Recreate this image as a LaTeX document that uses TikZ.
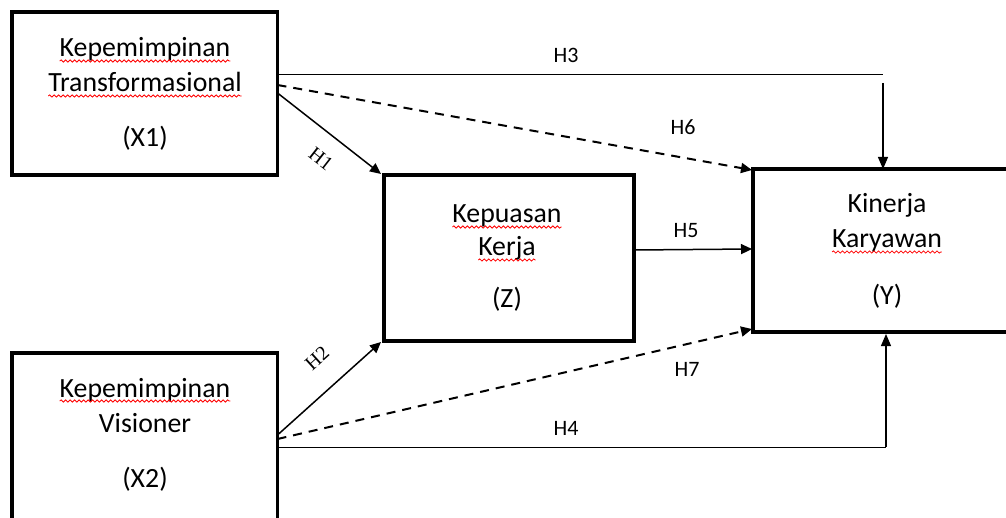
\documentclass[tikz,border=0pt]{standalone}
\usepackage{fontspec}
\setmainfont{Carlito}
\newfontfamily\serifH{Liberation Serif}
\usetikzlibrary{arrows.meta,decorations.pathmorphing}
\begin{document}
\begin{tikzpicture}[x=1pt,y=-1pt,
  box/.style={draw,line width=3.8pt,inner sep=0pt,outer sep=0pt,rectangle},
  word/.style={inner sep=0pt,outer sep=0pt,anchor=base,font=\fontsize{27.8}{32}\selectfont},
  hlab/.style={inner sep=0pt,anchor=base,font=\fontsize{22}{26}\selectfont},
  slab/.style={inner sep=0pt,font=\serifH\fontsize{20}{24}\selectfont},
  wavy/.style={red,line width=0.8pt,decorate,decoration={snake,amplitude=1.1pt,segment length=4.5pt}},
  conn/.style={line width=1.5pt,-{Triangle[length=11pt,width=10pt]}},
  dconn/.style={line width=2pt,dash pattern=on 9pt off 7pt,-{Triangle[length=11pt,width=10pt]}},
  thin/.style={line width=1pt},
  thinarr/.style={line width=1.2pt,-{Triangle[length=12pt,width=10pt]}}]
\useasboundingbox (0,0) rectangle (1006,518);
\clip (0,0) rectangle (1006,518);
% boxes
\node[box,minimum width=265.5pt,minimum height=163pt] (x1) at (144.75,93.5) {};
\node[box,minimum width=265.5pt,minimum height=200pt] (x2) at (144.75,453) {};
\node[box,minimum width=250pt,minimum height=166pt] (z) at (509,258) {};
\node[box,minimum width=300pt,minimum height=163pt] (y) at (903,250.5) {};
% texts
\node[word] (x1a) at (145,57) {Kepemimpinan};
\node[word] (x1b) at (145,92) {Transformasional};
\node[word] (x1c) at (145,147) {(X1)};
\node[word] (x2a) at (145,397) {Kepemimpinan};
\node[word] (x2b) at (145,432) {Visioner};
\node[word] (x2c) at (145,487) {(X2)};
\node[word] (za) at (507,223) {Kepuasan};
\node[word] (zb) at (507,256) {Kerja};
\node[word] (zc) at (507,308) {(Z)};
\node[word] (ya) at (887,213) {Kinerja};
\node[word] (yb) at (887,248) {Karyawan};
\node[word] (yc) at (887,305) {(Y)};
% spell-check waves
\foreach \w in {x1a,x1b,x2a,za,zb,yb}
  \draw[wavy] ([yshift=-4pt]\w.base west) -- ([yshift=-4pt]\w.base east);
% coordinates
\coordinate (h3s) at (x1.east |- 0,75);
\coordinate (h3e) at (883,75);
\coordinate (h3v) at (883,83);
\coordinate (h3t) at (h3v |- y.north);
\coordinate (h6s) at (x1.east |- 0,85);
\coordinate (h1s) at (x1.east |- 0,93);
\coordinate (h6t) at (752,170);
\coordinate (h1t) at (381,174);
\coordinate (h2s) at (277.5,435);
\coordinate (h7s) at (277.5,439);
\coordinate (h4s) at (277.5,447);
\coordinate (h2t) at (381,342);
\coordinate (h7t) at (752,329);
\coordinate (h4c) at (886,447);
\coordinate (h4t) at (886,334);
\coordinate (h5s) at (z.east |- 0,250);
\coordinate (h5t) at (752,249);
% connectors
\draw[thin] (h3s) -- (h3e);
\draw[thinarr] (h3v) -- (h3t);
\draw[dconn] (h6s) -- (h6t);
\draw[conn] (h1s) -- (h1t);
\draw[conn] (h2s) -- (h2t);
\draw[dconn] (h7s) -- (h7t);
\draw[thin] (h4s) -- (h4c);
\draw[thinarr] (h4c) -- (h4t);
\draw[conn] (h5s) -- (h5t);
% labels
\node[hlab] (l3) at (566,63) {H3};
\node[hlab] (l6) at (683,135) {H6};
\node[hlab] (l5) at (686,238) {H5};
\node[hlab] (l7) at (687,376) {H7};
\node[hlab] (l4) at (566,435) {H4};
\node[slab,rotate=-38] (l1) at (321,159) {H1};
\node[slab,rotate=42] (l2) at (317,358) {H2};
\end{tikzpicture}
\end{document}
